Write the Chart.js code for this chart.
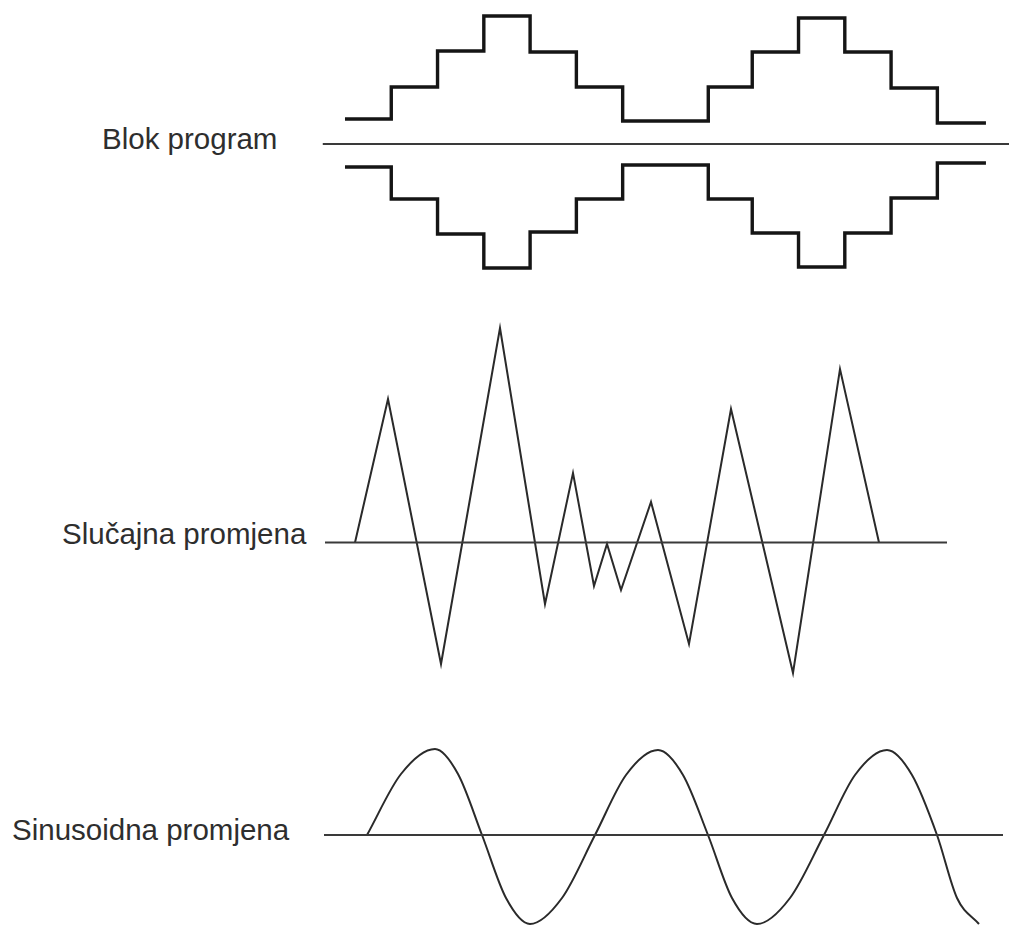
<!DOCTYPE html>
<html>
    <head>
        <title>Promjene opterecenja</title>
        <meta charset="UTF-8">
        <meta name="viewport" content="width=device-width, initial-scale=1.0">
        <script src="https://cdn.jsdelivr.net/npm/chart.js"></script>
        <style>
            body { margin: 0; background: #ffffff; width: 1009px; height: 926px; overflow: hidden; position: relative; }
            canvas { position: absolute; }
            .label { position: absolute; font-family: "Liberation Sans", Arial, sans-serif; font-size: 29.5px; line-height: 30px; color: #2e2e2e; white-space: nowrap; }
            #blokChart { left: 300px; top: 0px; }
            #slucajnaChart { left: 300px; top: 300px; }
            #sinusChart { left: 300px; top: 720px; }
        </style>
    </head>
    <body>
        <div class="label" style="left:102px; top:124px;">Blok program</div>
        <div class="label" style="left:62px; top:519px;">Slučajna promjena</div>
        <div class="label" style="left:12px; top:815px;">Sinusoidna promjena</div>

        <canvas id="blokChart" width="709" height="290"></canvas>
        <canvas id="slucajnaChart" width="709" height="400"></canvas>
        <canvas id="sinusChart" width="709" height="206"></canvas>

        <script>
            // Blok program : rubovi blokova (vrijeme) i razine opterecenja
            var blokEdges = [0, 1, 2, 3, 4, 5, 6, 7.85, 8.8, 9.8, 10.8, 11.8, 12.8, 13.85];
            var blokUpper = [2.5, 5.7, 9.3, 12.8, 9.2, 5.7, 2.3, 5.7, 9.2, 12.6, 9.2, 5.6, 2.1];
            var blokLower = [-2.3, -5.5, -9.0, -12.4, -8.8, -5.5, -2.1, -5.5, -8.9, -12.3, -8.9, -5.4, -1.9];
            var blokAxis = [-0.48, 14.4];

            // Slucajna promjena
            var slucajnaT = [0, 3.3, 8.6, 14.5, 19, 21.8, 23.9, 25.2, 26.6, 29.6, 33.4, 37.6, 43.8, 48.5, 52.4];
            var slucajnaY = [0, 14.35, -12.15, 21.45, -6.15, 6.95, -4.35, -0.15, -4.75, 4.05, -10.15, 13.35, -13.05, 17.35, 0];
            var slucajnaAxis = [-3.0, 59.2];

            // Sinusoidna promjena (ocitano: nule, vrhovi i tocke izmedu)
            var sinusT = [0, 3.4, 6.8, 9.1, 11.5, 13.9, 16.3, 19.5, 22.8, 25.9, 29.1, 31.6, 34.1, 36.5, 39, 42.3, 45.7, 48.8, 52, 54.5, 57, 59, 61.2];
            var sinusY = [0, 6.1, 8.6, 6.1, 0, -6.3, -8.9, -6.3, 0, 6.0, 8.5, 6.0, 0, -6.3, -8.9, -6.3, 0, 6.0, 8.5, 6.0, 0, -6.3, -8.9];
            var sinusAxis = [-4.3, 63.6];

            function toPoints(xs, ys)
            {
                var pts = [];
                for (var i = 0; i < ys.length; i++) {
                    pts.push({x: xs[i], y: ys[i]});
                }
                return pts;
            }

            function stepPoints(edges, levels)
            {
                var pts = toPoints(edges, levels);
                pts.push({x: edges[edges.length - 1], y: levels[levels.length - 1]});
                return pts;
            }

            function axisLine(range, width)
            {
                return {
                    data: [{x: range[0], y: 0}, {x: range[1], y: 0}],
                    borderColor: "#3a3a3a",
                    borderWidth: width,
                    pointRadius: 0
                };
            }

            function baseOptions(xMin, xMax, yMin, yMax)
            {
                return {
                    responsive: false,
                    animation: false,
                    events: [],
                    layout: {padding: 0},
                    plugins: {
                        legend: {display: false},
                        tooltip: {enabled: false}
                    },
                    elements: {
                        point: {radius: 0}
                    },
                    scales: {
                        x: {type: 'linear', display: false, min: xMin, max: xMax},
                        y: {type: 'linear', display: false, min: yMin, max: yMax}
                    }
                };
            }

            function generateBlokChart()
            {
                new Chart(document.getElementById("blokChart"), {
                    type: 'line',
                    data: {
                        datasets: [
                            axisLine(blokAxis, 1.8),
                            {
                                data: stepPoints(blokEdges, blokUpper),
                                stepped: 'before',
                                borderColor: "#151515",
                                borderWidth: 3.4,
                                borderJoinStyle: 'miter'
                            },
                            {
                                data: stepPoints(blokEdges, blokLower),
                                stepped: 'before',
                                borderColor: "#151515",
                                borderWidth: 3.4,
                                borderJoinStyle: 'miter'
                            }
                        ]
                    },
                    // 1 jedinica = 46.28 px po x, 10 px po y
                    options: baseOptions(-0.972, 14.348, -14.6, 14.4)
                });
            }

            function generateSlucajnaChart()
            {
                new Chart(document.getElementById("slucajnaChart"), {
                    type: 'line',
                    data: {
                        datasets: [
                            axisLine(slucajnaAxis, 2),
                            {
                                data: toPoints(slucajnaT, slucajnaY),
                                borderColor: "#2a2a2a",
                                borderWidth: 2,
                                borderJoinStyle: 'miter',
                                tension: 0
                            }
                        ]
                    },
                    options: baseOptions(-5.5, 65.4, -15.75, 24.25)
                });
            }

            function generateSinusChart()
            {
                new Chart(document.getElementById("sinusChart"), {
                    type: 'line',
                    data: {
                        datasets: [
                            axisLine(sinusAxis, 2),
                            {
                                data: toPoints(sinusT, sinusY),
                                borderColor: "#2a2a2a",
                                borderWidth: 2,
                                cubicInterpolationMode: 'monotone'
                            }
                        ]
                    },
                    options: baseOptions(-6.7, 64.2, -9.1, 11.5)
                });
            }

            generateBlokChart();
            generateSlucajnaChart();
            generateSinusChart();
        </script>
    </body>
</html>
